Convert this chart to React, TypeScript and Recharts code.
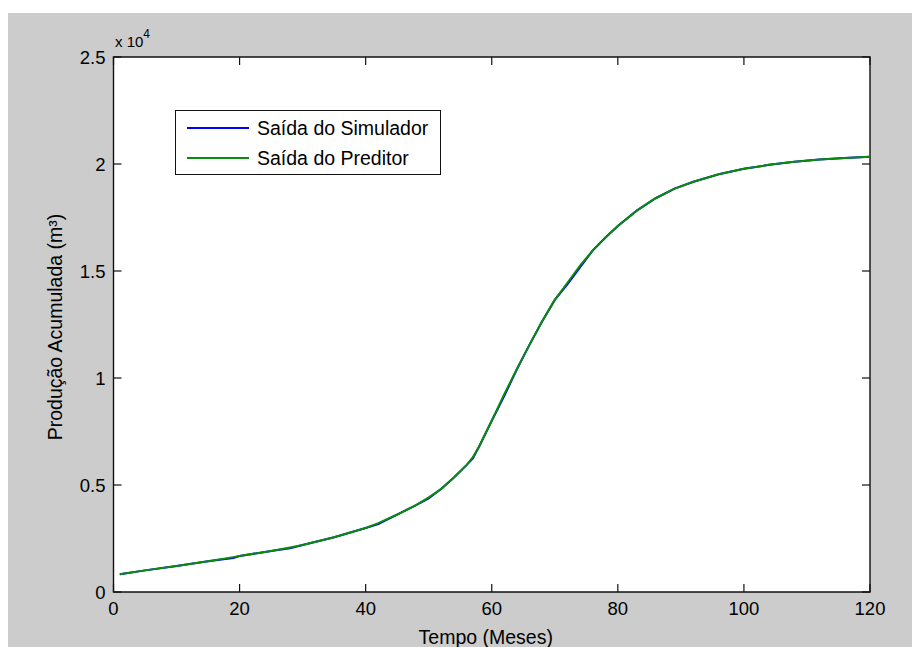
import React from 'react';
import {
  LineChart,
  Line,
  XAxis,
  YAxis,
  CartesianGrid,
  ReferenceArea
} from 'recharts';

// months (x) and cumulative production (m³)
const months = [1, 5, 10, 15, 19, 20, 25, 28, 30, 35, 40, 42, 45, 48, 50, 52, 54, 56, 57, 58, 60, 62, 64, 66, 68, 70, 72, 74, 76, 78, 80, 83, 86, 89, 92, 96, 100, 104, 108, 112, 116, 120];
const predictorValues = [830, 1010, 1220, 1440, 1630, 1680, 1920, 2080, 2200, 2560, 2990, 3220, 3620, 4060, 4420, 4820, 5350, 5930, 6300, 6800, 8000, 9250, 10420, 11560, 12650, 13650, 14450, 15250, 15950, 16550, 17100, 17820, 18400, 18850, 19170, 19520, 19780, 19960, 20110, 20210, 20280, 20340];
const simulatorValues = [830, 1010, 1220, 1440, 1590, 1680, 1920, 2040, 2200, 2560, 2990, 3170, 3620, 4060, 4370, 4820, 5350, 5930, 6240, 6800, 8000, 9170, 10420, 11560, 12650, 13650, 14370, 15170, 15950, 16550, 17100, 17820, 18400, 18850, 19170, 19520, 19780, 19960, 20110, 20210, 20280, 20340];

const xTicks = [0, 20, 40, 60, 80, 100, 120];
const yTicks = [0, 5000, 10000, 15000, 20000, 25000];

const seriesNames = ['Saída do Simulador', 'Saída do Preditor'];
const seriesColors = ['#0000ff', '#0b8a0b'];

const data = months.map((m, i) => ({
  month: m,
  simulador: simulatorValues[i],
  preditor: predictorValues[i]
}));

const FONT = '"Liberation Sans", Arial, Helvetica, sans-serif';
const PLOT_W = 756.5;
const PLOT_H = 535;
const TICK_LEN = 8;

const XTick = (props: any) => {
  const { x, y, payload } = props;
  return (
    <g>
      <line x1={x} y1={y} x2={x} y2={y - TICK_LEN} stroke="#111" strokeWidth={1.2} />
      <line x1={x} y1={y - PLOT_H} x2={x} y2={y - PLOT_H + TICK_LEN} stroke="#111" strokeWidth={1.2} />
      <text x={x} y={y + 22.5} textAnchor="middle" fontFamily={FONT} fontSize={18.5} fill="#000">
        {payload.value}
      </text>
    </g>
  );
};

const YTick = (props: any) => {
  const { x, y, payload } = props;
  return (
    <g>
      <line x1={x} y1={y} x2={x + TICK_LEN} y2={y} stroke="#111" strokeWidth={1.2} />
      <line x1={x + PLOT_W} y1={y} x2={x + PLOT_W - TICK_LEN} y2={y} stroke="#111" strokeWidth={1.2} />
      <text x={x - 8} y={y + 6.6} textAnchor="end" fontFamily={FONT} fontSize={18.5} fill="#000">
        {String(payload.value / 10000)}
      </text>
    </g>
  );
};

const Legendbox = () => (
  <div
    style={{
      position: 'absolute',
      left: 167,
      top: 97,
      width: 266,
      height: 65,
      boxSizing: 'border-box',
      background: '#fff',
      border: '1px solid #111',
      fontFamily: FONT,
      fontSize: 19.5
    }}
  >
    {seriesNames.map((name, i) => (
      <div key={name} style={{ position: 'absolute', left: 0, top: 17 + i * 30 - 12, height: 24, width: '100%' }}>
        <div style={{ position: 'absolute', left: 11, top: 11, width: 62, height: 2, background: seriesColors[i] }} />
        <div style={{ position: 'absolute', left: 81, top: 0, lineHeight: '24px', whiteSpace: 'nowrap', color: '#000' }}>
          {name}
        </div>
      </div>
    ))}
  </div>
);

export default function App() {
  return (
    <div style={{ position: 'relative', width: 912, height: 634, marginTop: 5, background: '#cccccc' }}>
      <LineChart width={912} height={634} data={data} margin={{ top: 44, right: 50, bottom: 0, left: 0 }}>
        <CartesianGrid fill="#ffffff" horizontal={false} vertical={false} />
        <XAxis
          dataKey="month"
          type="number"
          domain={[0, 120]}
          ticks={xTicks}
          interval={0}
          height={55}
          axisLine={false}
          tickLine={false}
          tickSize={0}
          tickMargin={0}
          tick={(p: any) => <XTick {...p} />}
          label={{
            content: (p: any) => {
              const vb = p.viewBox;
              return (
                <text x={vb.x + vb.width / 2 - 6} y={vb.y + 51.7} textAnchor="middle" fontFamily={FONT} fontSize={19.5} fill="#000">
                  Tempo (Meses)
                </text>
              );
            }
          }}
        />
        <YAxis
          type="number"
          domain={[0, 25000]}
          ticks={yTicks}
          interval={0}
          width={105.5}
          axisLine={false}
          tickLine={false}
          tickSize={0}
          tickMargin={0}
          tick={(p: any) => <YTick {...p} />}
          label={{
            content: (p: any) => {
              const vb = p.viewBox;
              const cx = 54;
              const cy = vb.y + vb.height / 2 + 2.5;
              return (
                <g>
                  <text
                    x={cx}
                    y={cy}
                    transform={`rotate(-90, ${cx}, ${cy})`}
                    textAnchor="middle"
                    fontFamily={FONT}
                    fontSize={19.5}
                    fill="#000"
                  >
                    Produção Acumulada (m³)
                  </text>
                  <text x={107} y={34} fontFamily={FONT} fontSize={15} fill="#000">
                    x 10
                    <tspan fontSize={12} dy={-9}>4</tspan>
                  </text>
                </g>
              );
            }
          }}
        />
        <Line
          type="linear"
          dataKey="simulador"
          name={seriesNames[0]}
          stroke={seriesColors[0]}
          strokeWidth={2}
          dot={false}
          isAnimationActive={false}
        />
        <Line
          type="linear"
          dataKey="preditor"
          name={seriesNames[1]}
          stroke={seriesColors[1]}
          strokeWidth={2}
          dot={false}
          isAnimationActive={false}
        />
        <ReferenceArea x1={0} x2={120} y1={0} y2={25000} fill="none" stroke="#111" strokeWidth={1.4} />
      </LineChart>
      <Legendbox />
    </div>
  );
}
